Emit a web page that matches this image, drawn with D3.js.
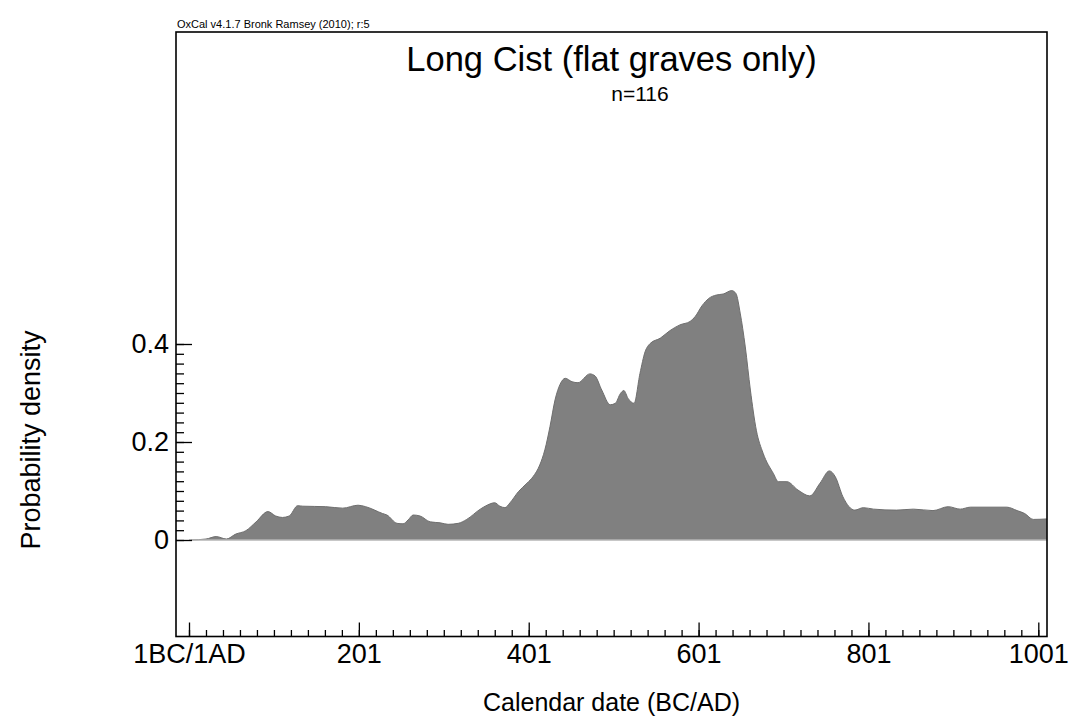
<!DOCTYPE html>
<meta charset="utf-8">
<title>Long Cist (flat graves only)</title>
<style>

body {
  margin: 0;
  background: #fff;
}

text {
  font-family: "Liberation Sans", Arial, sans-serif;
  fill: #000;
}

.frame {
  fill: none;
  stroke: #000;
  stroke-width: 1.6;
}

.axis line {
  stroke: #000;
  stroke-width: 1.3;
}

.axis .domain {
  display: none;
}

.density {
  fill: #808080;
}

.density-edge {
  fill: none;
  stroke: #6e6e6e;
  stroke-width: 1;
}

.zero-line {
  stroke: #b4b4b4;
  stroke-width: 1.5;
}

</style>
<body>

<script src="https://d3js.org/d3.v7.min.js"></script>

<script>

// summed probability curve (calendar year AD, density)
var years = [3, 21, 33, 45, 56, 68, 80, 94, 103, 111, 119, 129, 135, 162, 182, 200, 209, 229, 234,
  246, 253, 259, 265, 273, 285, 297, 306, 318, 328, 344, 352, 361, 367, 373, 379, 389, 399, 406,
  414, 420, 426, 432, 438, 444, 452, 459, 473, 479, 487, 497, 503, 509, 513, 518, 525, 532, 538,
  544, 556, 567, 579, 591, 597, 605, 613, 622, 630, 640, 645, 650, 656, 662, 669, 677, 689, 695,
  705, 718, 732, 744, 755, 762, 771, 785, 795, 807, 834, 854, 877, 895, 909, 921, 964, 976, 985,
  995, 1011];
var density = [0.000, 0.002, 0.007, 0.002, 0.012, 0.019, 0.037, 0.058, 0.049, 0.046, 0.049, 0.070,
  0.069, 0.068, 0.065, 0.071, 0.068, 0.054, 0.051, 0.034, 0.033, 0.041, 0.051, 0.049, 0.037, 0.035,
  0.032, 0.034, 0.042, 0.063, 0.071, 0.076, 0.069, 0.066, 0.076, 0.099, 0.116, 0.129, 0.153, 0.184,
  0.231, 0.286, 0.318, 0.330, 0.323, 0.321, 0.339, 0.335, 0.306, 0.276, 0.279, 0.299, 0.305, 0.289,
  0.279, 0.340, 0.384, 0.401, 0.412, 0.427, 0.439, 0.446, 0.456, 0.478, 0.493, 0.500, 0.502, 0.509,
  0.503, 0.463, 0.394, 0.306, 0.224, 0.177, 0.136, 0.119, 0.119, 0.102, 0.090, 0.116, 0.141, 0.129,
  0.088, 0.061, 0.066, 0.063, 0.061, 0.063, 0.060, 0.068, 0.063, 0.067, 0.067, 0.060, 0.054, 0.042,
  0.043];

// axis ticks
var xMajor = [1, 201, 401, 601, 801, 1001];
var xLabels = ["1BC/1AD", "201", "401", "601", "801", "1001"];
var yMajor = [0, 0.2, 0.4];
var yLabels = ["0", "0.2", "0.4"];

var header = "OxCal v4.1.7 Bronk Ramsey (2010); r:5";
var title = "Long Cist (flat graves only)";
var subtitle = "n=116";
var xTitle = "Calendar date (BC/AD)";
var yTitle = "Probability density";

var width = 1070,
    height = 724;

// plot frame
var frame = {left: 176, right: 1047, top: 32, bottom: 636.5};

var x = d3.scaleLinear().domain([1, 1001]).range([189, 1038.3]);
var y = d3.scaleLinear().domain([0, 0.4]).range([540, 344]);

var data = years.map(function(d, i) { return {year: d, p: density[i]}; });

var svg = d3.select("body").append("svg")
    .attr("width", width)
    .attr("height", height);

svg.append("clipPath")
    .attr("id", "plot-clip")
  .append("rect")
    .attr("x", frame.left)
    .attr("y", frame.top)
    .attr("width", frame.right - frame.left)
    .attr("height", frame.bottom - frame.top);

var plot = svg.append("g").attr("clip-path", "url(#plot-clip)");

var area = d3.area()
    .x(function(d) { return x(d.year); })
    .y0(y(0))
    .y1(function(d) { return y(d.p); })
    .curve(d3.curveMonotoneX);

var line = d3.line()
    .x(function(d) { return x(d.year); })
    .y(function(d) { return y(d.p); })
    .curve(d3.curveMonotoneX);

plot.append("path")
    .datum(data)
    .attr("class", "density")
    .attr("d", area);

plot.append("path")
    .datum(data)
    .attr("class", "density-edge")
    .attr("d", line);

plot.append("line")
    .attr("class", "zero-line")
    .attr("x1", x(1))
    .attr("x2", frame.right)
    .attr("y1", y(0))
    .attr("y2", y(0));

// x axis: minor ticks every 20 years, majors every 200
svg.append("g")
    .attr("class", "axis")
    .attr("transform", "translate(0," + frame.bottom + ")")
    .call(d3.axisBottom(x).tickValues(d3.range(1, 1002, 20)).tickSize(-6.5).tickFormat(""));

var xAxis = svg.append("g")
    .attr("class", "axis")
    .attr("transform", "translate(0," + frame.bottom + ")")
    .call(d3.axisBottom(x)
      .tickValues(xMajor)
      .tickSize(-14)
      .tickPadding(7)
      .tickFormat(function(d, i) { return xLabels[i]; }));

// y axis: minor ticks every 0.02 up to 0.4
svg.append("g")
    .attr("class", "axis")
    .attr("transform", "translate(" + frame.left + ",0)")
    .call(d3.axisLeft(y).tickValues(d3.range(0, 0.401, 0.02)).tickSize(-8).tickFormat(""));

var yAxis = svg.append("g")
    .attr("class", "axis")
    .attr("transform", "translate(" + frame.left + ",0)")
    .call(d3.axisLeft(y)
      .tickValues(yMajor)
      .tickSize(-16)
      .tickPadding(7)
      .tickFormat(function(d, i) { return yLabels[i]; }));

svg.selectAll(".axis")
    .attr("font-family", null)
    .attr("font-size", null);

svg.selectAll(".axis text")
    .style("font-size", "27px")
    .attr("fill", "#000");

svg.append("rect")
    .attr("class", "frame")
    .attr("x", frame.left)
    .attr("y", frame.top)
    .attr("width", frame.right - frame.left)
    .attr("height", frame.bottom - frame.top);

// texts
svg.append("text")
    .attr("x", frame.left + 1)
    .attr("y", 28)
    .style("font-size", "11px")
    .text(header);

svg.append("text")
    .attr("x", (frame.left + frame.right) / 2)
    .attr("y", 71)
    .attr("text-anchor", "middle")
    .style("font-size", "34.5px")
    .text(title);

svg.append("text")
    .attr("x", 640)
    .attr("y", 101)
    .attr("text-anchor", "middle")
    .style("font-size", "21px")
    .text(subtitle);

svg.append("text")
    .attr("x", (frame.left + frame.right) / 2)
    .attr("y", 711)
    .attr("text-anchor", "middle")
    .style("font-size", "25px")
    .text(xTitle);

svg.append("text")
    .attr("transform", "translate(40,440) rotate(-90)")
    .attr("text-anchor", "middle")
    .style("font-size", "27px")
    .text(yTitle);

</script>
</body>
